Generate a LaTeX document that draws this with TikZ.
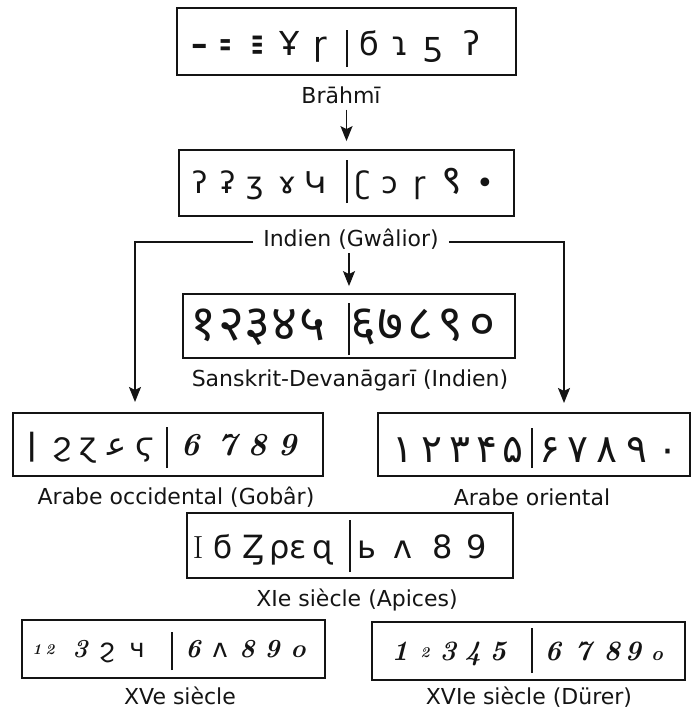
\documentclass[tikz,border=0pt]{standalone}
\usepackage{fontspec}
\usepackage{graphicx}
\usepackage{tikz}
\usetikzlibrary{positioning,arrows.meta,calc}
\newfontfamily\labelfont{DejaVu Sans}
\newfontfamily\glyphfont{DejaVu Sans}
\newfontfamily\devafont[Script=Devanagari]{Noto Sans}
\newfontfamily\arabicfont[Script=Arabic]{DejaVu Sans}
\definecolor{InkBlack}{HTML}{141414}

% one numeral, centred at #1 from the left edge of its box
\newcommand{\gl}[2]{\makebox[0pt][l]{\hspace{#1}\makebox[0pt]{#2}}}
% the stroke between 5 and 6
\newcommand{\dv}[3]{\gl{#1}{\vrule width 1.6pt height #2 depth #3}}
% width, strut height, baseline offset, numerals
\newcommand{\numrow}[4]{\makebox[#1][l]{\rule[\dimexpr#3-#2/2\relax]{0pt}{#2}#4}}
\newcommand{\sm}[1]{\raisebox{3pt}{\fontsize{15}{15}\selectfont #1}}
\newcommand{\dg}{\rmfamily\itshape\bfseries}

\begin{document}
\begin{tikzpicture}[x=1pt,y=1pt,
    every node/.style={text=InkBlack},
    numbox/.style={draw=InkBlack,line width=1.8pt,inner sep=0pt,rectangle},
    lbl/.style={font=\labelfont\fontsize{22}{26}\selectfont,inner sep=2pt},
    ar/.style={-{Stealth[length=15pt,width=12pt,inset=3pt]},line width=1.6pt,InkBlack}]
  \useasboundingbox (0,0) rectangle (697,-713);

  \node[numbox,minimum width=339pt,minimum height=67pt] (bra) at (346.5,-41.5)
    {\numrow{339pt}{65pt}{13.5pt}{\glyphfont\fontsize{33}{33}\selectfont
     \gl{23pt}{\bfseries –}\gl{49pt}{\bfseries\scalebox{.45}[1]{=}}\gl{81pt}{\bfseries\scalebox{.45}[1]{≡}}\gl{113pt}{Ұ}\gl{143pt}{ɼ}%
     \dv{170pt}{25pt}{12pt}%
     \gl{193pt}{ϭ}\gl{223pt}{ɿ}\gl{256pt}{ƽ}\gl{295pt}{ʔ}}};
  \node[lbl] (brl) at (341,-95) {Brāhmī};

  \node[numbox,minimum width=335pt,minimum height=66pt] (gwa) at (346.5,-183)
    {\numrow{335pt}{64pt}{10pt}{\glyphfont\fontsize{30}{30}\selectfont
     \gl{21pt}{ʔ}\gl{49pt}{ʡ}\gl{76pt}{ʒ}\gl{108pt}{ɤ}\gl{136pt}{Կ}%
     \dv{168pt}{33pt}{10pt}%
     \gl{184pt}{ʗ}\gl{211pt}{ɔ}\gl{241pt}{ɼ}\gl{273pt}{\devafont\fontsize{40}{40}\selectfont ९}\gl{306pt}{•}}};
  \node[lbl,inner xsep=10pt] (gwl) at (351,-239) {Indien (Gwâlior)};

  \node[numbox,minimum width=332pt,minimum height=64pt] (dev) at (349,-326)
    {\numrow{332pt}{62pt}{14pt}{\devafont\fontsize{50}{50}\selectfont
     \gl{20pt}{१}\gl{49pt}{२}\gl{75pt}{३}\gl{102pt}{४}\gl{130pt}{५}%
     \dv{166pt}{37pt}{15pt}%
     \gl{180pt}{६}\gl{207pt}{७}\gl{237pt}{८}\gl{267pt}{९}\gl{299pt}{०}}};
  \node[lbl] (devl) at (350,-380) {Sanskrit-Devanāgarī (Indien)};

  \node[numbox,minimum width=310pt,minimum height=63pt] (occ) at (168,-444.5)
    {\numrow{310pt}{61pt}{10.5pt}{\glyphfont\fontsize{32}{32}\selectfont
     \gl{19pt}{ǀ}\gl{49pt}{ϩ}\gl{75pt}{ɀ}\gl{104pt}{ﻋ}\gl{132pt}{ϛ}%
     \dv{154pt}{28pt}{13pt}%
     \gl{177pt}{\dg 6}\gl{214pt}{\dg 7}\gl{244pt}{\dg 8}\gl{274pt}{\dg 9}}};
  \node[lbl] (occl) at (176,-497) {Arabe occidental (Gobâr)};

  \node[numbox,minimum width=312pt,minimum height=63pt] (ori) at (534,-444.5)
    {\numrow{312pt}{61pt}{17.5pt}{\arabicfont\fontsize{39}{39}\selectfont
     \gl{25pt}{۱}\gl{54pt}{۲}\gl{82pt}{۳}\gl{109pt}{۴}\gl{135pt}{۵}%
     \dv{154pt}{34pt}{6pt}%
     \gl{172pt}{۶}\gl{200pt}{۷}\gl{229pt}{۸}\gl{259pt}{۹}\gl{290pt}{۰}}};
  \node[lbl] (oril) at (532,-497) {Arabe oriental};

  \node[numbox,minimum width=326pt,minimum height=65pt] (api) at (350,-545.5)
    {\numrow{326pt}{63pt}{12.5pt}{\glyphfont\fontsize{32}{32}\selectfont
     \gl{11pt}{\rmfamily I}\gl{36pt}{ϭ}\gl{66pt}{Ȥ}\gl{101pt}{ρɛ}\gl{136pt}{ɋ}%
     \dv{163pt}{38pt}{14pt}%
     \gl{180pt}{ь}\gl{216pt}{ʌ}\gl{256pt}{8}\gl{290pt}{9}}};
  \node[lbl] (apil) at (357,-600) {XIe siècle (Apices)};

  \node[numbox,minimum width=303pt,minimum height=58pt] (xve) at (173.5,-649)
    {\numrow{303pt}{56pt}{8pt}{\dg\fontsize{26}{26}\selectfont
     \gl{15pt}{\sm 1}\gl{28pt}{\sm 2}\gl{58pt}{3}\gl{85pt}{\glyphfont\upshape\mdseries ϩ}\gl{115pt}{\glyphfont\upshape\mdseries ч}%
     \dv{150pt}{25pt}{13pt}%
     \gl{171pt}{6}\gl{198pt}{\glyphfont\upshape\mdseries ʌ}\gl{225pt}{8}\gl{250pt}{9}\gl{276pt}{o}}};
  \node[lbl] (xvel) at (180,-696) {XVe siècle};

  \node[numbox,minimum width=313pt,minimum height=58pt] (due) at (528.5,-651)
    {\numrow{313pt}{56pt}{9pt}{\dg\fontsize{28}{28}\selectfont
     \gl{28pt}{1}\gl{53pt}{\sm 2}\gl{76pt}{3}\gl{101pt}{4}\gl{126pt}{5}%
     \dv{160pt}{32pt}{13pt}%
     \gl{181pt}{6}\gl{211pt}{7}\gl{240pt}{8}\gl{261pt}{9}\gl{285pt}{\fontsize{20}{20}\selectfont o}}};
  \node[lbl] (durl) at (529,-697) {XVIe siècle (Dürer)};

  \coordinate (occin) at (135,-402);
  \coordinate (oriin) at (564,-403);
  \draw[ar,shorten <=4pt,shorten >=8pt] (brl.south -| gwa.north) -- (gwa.north);
  \draw[ar,shorten <=2pt,shorten >=7pt] (gwl.south -| dev.north) -- (dev.north);
  \draw[ar] ([yshift=-3pt]gwl.west) -| (occin);
  \draw[ar] ([yshift=-3pt]gwl.east) -| (oriin);
\end{tikzpicture}
\end{document}
